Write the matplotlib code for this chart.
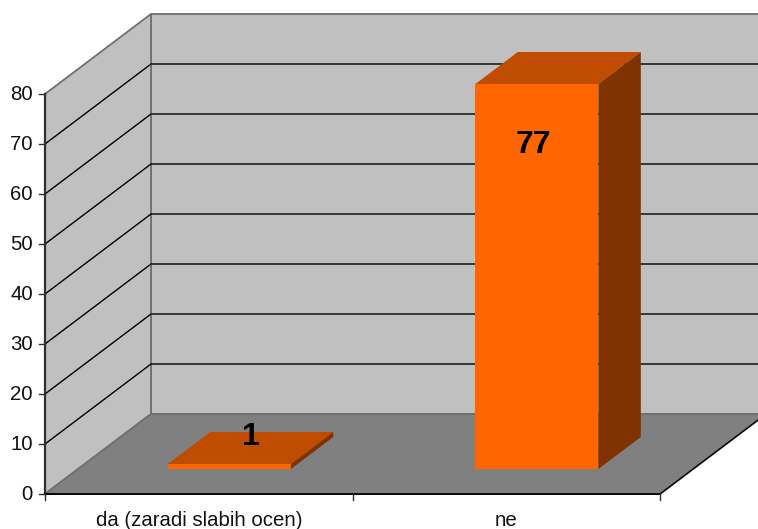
import matplotlib
matplotlib.use('Agg')
import matplotlib.pyplot as plt
from matplotlib.patches import Polygon

plt.rcParams['font.family'] = ['Liberation Sans', 'DejaVu Sans']

categories = ['da (zaradi slabih ocen)', 'ne']
values = [1, 77]
y_ticks = [0, 10, 20, 30, 40, 50, 60, 70, 80]

# chart box in pixels, one category is 307.5 px wide, one unit 5 px high
PX_X = 307.5
PX_Y = 5.0
DEPTH_X = 106 / PX_X
DEPTH_Y = 80 / PX_Y
BAR_W = 0.4
BAR_D0 = 0.3125
BAR_D1 = 0.7125

WALL = '#C0C0C0'
FLOOR = '#808080'
EDGE = '#707070'
FRONT = '#FF6600'
TOP = '#BF4C00'
SIDE = '#803300'


def proj(x, y, d=0.0):
    # oblique projection, d=0 is the front of the box and d=1 the back wall
    return (x + d * DEPTH_X, y + d * DEPTH_Y)


fig = plt.figure(figsize=(7.58, 5.29), dpi=100)
ax = fig.add_axes([0, 0, 1, 1])
ax.set_xlim(-45 / PX_X, (758 - 45) / PX_X)
ax.set_ylim((494 - 529) / PX_Y, 494 / PX_Y)
ax.axis('off')

xmax = len(categories)
ymax = y_ticks[-1]

# walls and floor
ax.add_patch(Polygon([proj(0, 0, 1), proj(xmax, 0, 1), proj(xmax, ymax, 1), proj(0, ymax, 1)],
                     fc=WALL, ec=EDGE, lw=1.3, zorder=1))
ax.add_patch(Polygon([proj(0, 0, 0), proj(0, 0, 1), proj(0, ymax, 1), proj(0, ymax, 0)],
                     fc=WALL, ec=EDGE, lw=1.3, zorder=1))
ax.add_patch(Polygon([proj(0, 0, 0), proj(xmax, 0, 0), proj(xmax, 0, 1), proj(0, 0, 1)],
                     fc=FLOOR, ec=EDGE, lw=1.3, zorder=1))

# gridlines along both walls
for v in y_ticks[1:-1]:
    a, b, c = proj(0, v, 0), proj(0, v, 1), proj(xmax, v, 1)
    ax.plot([a[0], b[0], c[0]], [a[1], b[1], c[1]], color='black', lw=1.0, zorder=2)

# floor right edge
a, b = proj(xmax, 0, 0), proj(xmax, 0, 1)
ax.plot([a[0], b[0]], [a[1], b[1]], color='black', lw=1.0, zorder=3)

# axes lines and ticks
ax.plot([0, 0], [0, ymax], color='#303030', lw=1.6, zorder=4)
ax.plot([0, xmax], [0, 0], color='black', lw=1.3, zorder=4)
for v in y_ticks:
    ax.plot([-6 / PX_X, 0], [v, v], color='#303030', lw=1.0, zorder=4)
    ax.text(-12 / PX_X, v, str(v), ha='right', va='center', fontsize=14.7, color='#111111')
for i in range(xmax + 1):
    ax.plot([i, i], [0, -6 / PX_Y], color='#303030', lw=1.0, zorder=4)
for i, name in enumerate(categories):
    ax.text(i + 0.5, -26 / PX_Y, name, ha='center', va='center', fontsize=14.7, color='#111111')

# bars
for i, v in enumerate(values):
    x0 = i + 0.5 - BAR_W / 2 + BAR_D0 * DEPTH_X - 0.008
    x1 = x0 + BAR_W
    base = BAR_D0 * DEPTH_Y
    dd = BAR_D1 - BAR_D0
    ax.add_patch(Polygon([(x0, base), (x1, base), (x1, base + v), (x0, base + v)],
                         fc=FRONT, ec='none', zorder=5))
    ax.add_patch(Polygon([(x0, base + v), (x1, base + v),
                          (x1 + dd * DEPTH_X, base + v + dd * DEPTH_Y),
                          (x0 + dd * DEPTH_X, base + v + dd * DEPTH_Y)],
                         fc=TOP, ec='none', zorder=5))
    ax.add_patch(Polygon([(x1, base), (x1 + dd * DEPTH_X, base + dd * DEPTH_Y),
                          (x1 + dd * DEPTH_X, base + v + dd * DEPTH_Y), (x1, base + v)],
                         fc=SIDE, ec='none', zorder=5))

# data labels
label_offset = [5.4, -61 / PX_Y]
label_x = [0.5 + 0.168, 1.5 + 0.089]
for v, lx, off in zip(values, label_x, label_offset):
    ax.text(lx, BAR_D0 * DEPTH_Y + v + off, str(v), ha='center', va='center',
            fontsize=23, fontweight='bold', color='black', zorder=6)

fig.savefig('out.png', dpi=100)
